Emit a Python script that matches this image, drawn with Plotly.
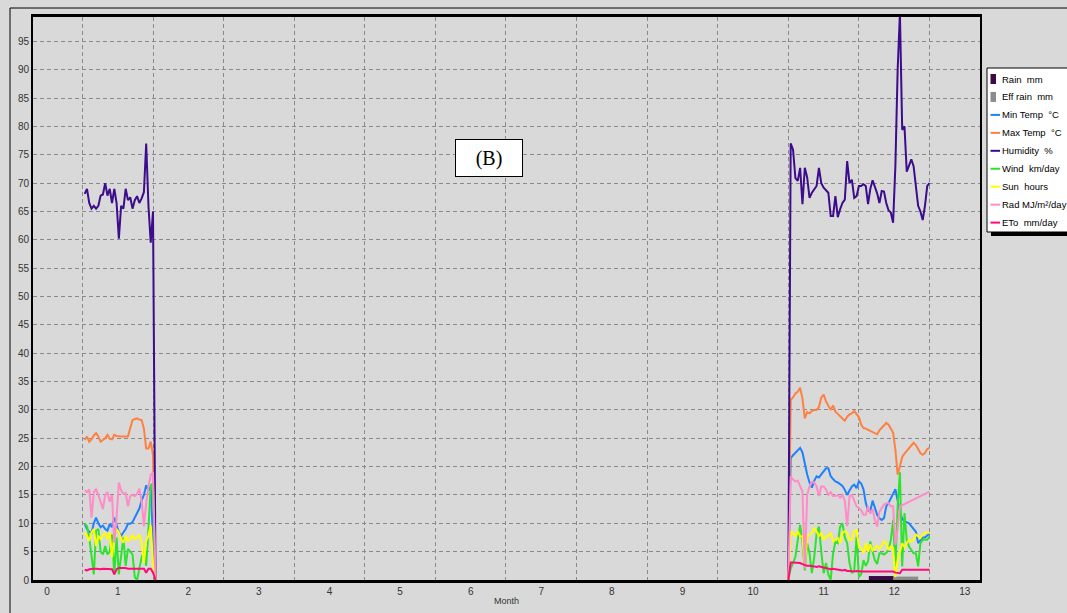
import plotly.graph_objects as go

# ---------------- data ----------------
month_ticks = list(range(0, 14))

# January daily values (31 days)
jan_min = [9.9, 9.0, 8.5, 8.3, 10.0, 11.0, 10.0, 9.3, 9.6, 9.0, 8.7, 9.9, 9.3, 11.0, 9.7, 8.4,
           7.8, 8.4, 9.0, 9.9, 9.9, 10.2, 11.0, 11.7, 12.6, 14.0, 15.0, 16.7, 15.8, 16.5, 7.0]
jan_max = [24.7, 25.3, 24.4, 24.8, 25.5, 25.9, 25.3, 24.4, 24.7, 25.0, 25.6, 24.9, 24.8, 25.6, 25.4, 25.3,
           25.3, 25.3, 25.3, 25.3, 26.8, 28.2, 28.4, 28.5, 28.3, 28.2, 26.7, 23.2, 23.2, 24.4, 22.0]
jan_hum = [68.1, 69.0, 66.5, 65.5, 66.0, 65.5, 66.0, 67.8, 68.0, 70.0, 67.8, 69.0, 66.5, 69.0, 66.5, 60.2,
           66.0, 65.5, 69.0, 67.0, 67.5, 65.5, 67.0, 67.7, 66.5, 67.3, 68.4, 77.0, 66.0, 59.5, 65.0]
jan_wind = [10.0, 9.5, 7.5, 4.5, 1.0, 8.7, 9.0, 5.0, 4.5, 6.0, 4.5, 5.0, 8.0, 1.0, 7.5, 1.0,
            4.5, 7.5, 2.5, 5.5, 5.0, 4.5, 0.5, 0.0, 2.0, 4.0, 5.0, 2.5, 9.0, 16.7, 17.0]
jan_sun = [8.4, 7.8, 6.9, 8.4, 9.0, 6.0, 7.8, 7.2, 7.8, 8.4, 7.2, 8.4, 4.0, 7.8, 9.0, 8.4,
           7.2, 6.6, 7.8, 6.9, 7.2, 8.0, 7.2, 7.5, 8.0, 6.6, 3.0, 6.9, 7.8, 9.6, 3.0]
jan_rad = [15.8, 15.5, 16.0, 11.0, 15.5, 16.0, 15.0, 13.5, 12.5, 15.0, 15.5, 13.8, 15.0, 6.6, 11.0, 17.2,
           15.8, 15.2, 15.3, 13.0, 14.8, 15.0, 14.8, 15.2, 16.1, 14.0, 9.5, 13.5, 16.5, 18.5, 19.0]
jan_eto = [1.8, 1.7, 1.9, 2.0, 2.0, 2.0, 1.9, 1.9, 2.0, 2.0, 2.0, 2.0, 1.9, 1.0, 1.9, 2.1,
           2.1, 2.2, 2.1, 2.0, 2.0, 2.0, 2.0, 2.0, 2.1, 2.0, 2.0, 1.3, 2.0, 2.0, 1.3]

# November daily values (30 days)
nov_min = [21.5, 22.0, 22.5, 23.0, 23.3, 22.5, 20.2, 18.6, 17.2, 16.3, 17.5, 18.3, 18.1, 18.6, 19.2,
           19.7, 19.7, 18.3, 17.8, 17.4, 17.2, 16.9, 16.6, 15.9, 15.0, 15.8, 16.5, 16.8, 16.2, 17.4]
nov_max = [31.8, 32.2, 32.9, 33.2, 33.9, 32.0, 28.5, 29.6, 29.4, 29.8, 30.0, 30.0, 30.5, 32.2, 32.7,
           31.5, 30.6, 30.0, 30.8, 29.7, 29.3, 28.8, 28.5, 28.1, 28.8, 29.2, 29.4, 29.8, 29.3, 28.7]
nov_hum = [77.0, 75.9, 70.9, 70.4, 72.7, 66.3, 72.7, 71.0, 67.4, 68.3, 69.0, 69.5, 72.7, 70.0, 69.2,
           68.8, 68.3, 64.2, 64.2, 67.7, 64.0, 65.4, 66.5, 67.1, 73.9, 70.0, 70.6, 67.4, 67.7, 69.5]
nov_wind = [2.0, 3.0, 4.1, 7.0, 9.7, 6.5, 1.7, 6.5, 4.7, 1.2, 4.0, 8.2, 9.4, 5.0, 1.2,
            3.0, 1.0, 0.0, 4.7, 6.7, 6.5, 9.4, 10.0, 7.5, 6.5, 3.0, 1.2, 1.7, 7.6, 0.5]
nov_sun = [8.6, 8.3, 7.7, 8.6, 7.7, 7.7, 2.4, 7.7, 8.0, 8.3, 9.1, 8.6, 7.7, 8.3, 7.1,
           7.7, 7.7, 8.3, 6.8, 7.1, 7.4, 6.5, 8.3, 8.6, 8.3, 7.1, 7.1, 8.6, 8.8, 5.9]
nov_rad = [18.3, 17.7, 17.4, 17.5, 16.5, 15.6, 2.0, 15.0, 16.5, 17.3, 17.2, 16.5, 14.8, 16.5, 16.5,
           16.0, 15.0, 15.5, 14.8, 14.8, 15.0, 14.5, 15.0, 14.0, 9.5, 14.8, 15.0, 13.8, 13.0, 12.7]
nov_eto = [3.1, 3.1, 3.1, 3.0, 3.0, 2.8, 2.6, 2.5, 2.5, 2.5, 2.4, 2.3, 2.4, 2.3, 2.2,
           2.0, 2.0, 1.9, 2.0, 1.9, 1.8, 1.7, 1.7, 1.8, 1.6, 1.6, 1.5, 1.5, 1.6, 1.5]

# December daily values (31 days)
dec_min = [17.0, 16.0, 13.6, 12.2, 12.2, 14.0, 12.7, 11.5, 10.9, 10.6, 10.9, 13.0, 13.6, 14.4, 15.0, 16.0,
           14.0, 12.0, 10.8, 10.3, 10.2, 10.0, 9.5, 9.0, 8.5, 6.5, 7.0, 7.5, 7.5, 7.8, 8.2]
dec_max = [27.4, 26.8, 26.7, 26.5, 26.3, 26.0, 25.8, 25.7, 26.4, 26.8, 27.3, 27.7, 27.4, 26.8, 26.0, 23.0,
           18.6, 20.0, 21.7, 22.3, 22.8, 23.3, 23.7, 24.2, 23.8, 23.2, 22.4, 22.1, 22.4, 23.1, 23.3]
dec_hum = [69.5, 69.8, 69.5, 66.3, 69.0, 70.5, 69.5, 68.2, 66.5, 68.6, 68.5, 66.5, 65.2, 64.8, 63.0, 73.0,
           90.0, 100.0, 79.4, 80.0, 72.0, 73.0, 74.2, 73.0, 69.0, 66.0, 65.0, 63.5, 66.0, 69.5, 70.0]
dec_wind = [1.0, 3.5, 2.5, 3.3, 6.8, 5.0, 3.5, 2.8, 4.7, 4.7, 4.5, 4.8, 5.3, 7.0, 10.6, 2.0,
            13.0, 19.0, 2.4, 11.8, 7.1, 5.9, 5.3, 4.7, 4.7, 2.4, 6.5, 7.1, 7.1, 7.1, 7.7]
dec_sun = [5.5, 4.8, 6.5, 5.0, 6.3, 5.2, 5.7, 6.0, 5.5, 6.0, 6.8, 6.5, 5.3, 5.9, 5.6, 0.5,
           3.5, 5.0, 6.5, 5.8, 6.5, 7.1, 6.8, 7.1, 8.0, 7.7, 7.4, 8.0, 8.3, 8.4, 8.3]
dec_rad = [12.3, 11.5, 11.5, 13.0, 11.7, 12.5, 10.6, 9.4, 12.0, 12.7, 13.3, 13.5, 13.6, 13.0, 13.0, 6.2,
           9.0, 13.0, 13.2, 13.3, 13.6, 13.8, 14.0, 14.2, 14.4, 14.6, 14.8, 15.0, 15.2, 15.4, 15.6]
dec_eto = [1.5, 1.5, 1.5, 1.6, 1.6, 1.6, 1.6, 1.6, 1.6, 1.6, 1.6, 1.6, 1.6, 1.5, 1.5, 1.3,
           1.2, 1.2, 1.8, 1.8, 1.8, 1.8, 1.8, 1.8, 1.8, 1.8, 1.8, 1.8, 1.8, 1.8, 1.8]

# Monthly rain (December only has rain)
rain_month = [12]
rain_mm = [0.7]
eff_rain_mm = [0.6]

series_names = ["Min Temp  \u00b0C", "Max Temp  \u00b0C", "Humidity  %", "Wind  km/day",
                "Sun  hours", "Rad MJ/m\u00b2/day", "ETo  mm/day"]
series_colors = ["#1E82FF", "#FF8040", "#3C0C8C", "#2CE42C", "#FFFF00", "#FF8CC6", "#FF0A78"]
bar_names = ["Rain  mm", "Eff rain  mm"]
bar_colors = ["#3C0A46", "#8C8C8C"]

# ---------------- helpers ----------------
def day_positions(month, ndays):
    return [month - 0.5 + d / ndays for d in range(1, ndays + 1)]

x_jan = day_positions(1, 31)
x_nov = day_positions(11, 30)
x_dec = day_positions(12, 31)
# zero readings for the months without data (Feb 1 and Oct 31)
x_gap = [1.5 + 1 / 28, None, 10.5]

def build(jan, nov, dec):
    return jan + [0, None, 0] + nov + dec

x_all = x_jan + x_gap + x_nov + x_dec
series = [
    build(jan_min, nov_min, dec_min),
    build(jan_max, nov_max, dec_max),
    build(jan_hum, nov_hum, dec_hum),
    build(jan_wind, nov_wind, dec_wind),
    build(jan_sun, nov_sun, dec_sun),
    build(jan_rad, nov_rad, dec_rad),
    build(jan_eto, nov_eto, dec_eto),
]

fig = go.Figure()

fig.add_trace(go.Bar(x=rain_month, y=rain_mm, name=bar_names[0], marker_color=bar_colors[0],
                     marker_line_width=0, width=[0.35], offset=[-0.36], showlegend=False))
fig.add_trace(go.Bar(x=rain_month, y=eff_rain_mm, name=bar_names[1], marker_color=bar_colors[1],
                     marker_line_width=0, width=[0.35], offset=[-0.01], showlegend=False))

for name, col, ys in zip(series_names, series_colors, series):
    fig.add_trace(go.Scatter(x=x_all, y=ys, mode="lines", name=name,
                             line=dict(color=col, width=2), connectgaps=False, showlegend=False))

# ---------------- layout ----------------
W, H = 1067, 613
ML, MR, MT, MB = 33, 87, 17, 33
PW, PH = W - ML - MR, H - MT - MB

def px(x):
    return (x - ML) / PW

def py(y):
    return (H - MB - y) / PH

BG = "#D9D9D9"
GRID = "#8A8A8A"
FONT = "Liberation Sans, Arial, sans-serif"
TICKFONT = dict(family=FONT, size=10, color="#333333")

fig.update_layout(
    width=W, height=H,
    margin=dict(l=ML, r=MR, t=MT, b=MB, autoexpand=False),
    paper_bgcolor=BG, plot_bgcolor=BG,
    barmode="overlay",
    showlegend=False,
    xaxis=dict(
        range=[-0.2, 13.215], tickvals=month_ticks, ticktext=[str(m) for m in month_ticks],
        showgrid=False, zeroline=False, showline=True, linecolor="black", linewidth=3,
        mirror=True, ticks="", tickfont=TICKFONT, layer="above traces",
        minor=dict(tick0=0.5, dtick=1, showgrid=True, gridcolor=GRID, griddash="4px,3px", gridwidth=1),
        title=dict(text="Month", font=dict(family=FONT, size=9, color="#333333"), standoff=2),
        automargin=False,
    ),
    yaxis=dict(
        range=[0, 99.3], tickvals=list(range(0, 100, 5)), showgrid=True, gridcolor=GRID,
        griddash="4px,3px", gridwidth=1, zeroline=False, showline=True, linecolor="black",
        linewidth=2, mirror=True, ticks="", tickfont=TICKFONT, layer="above traces",
        automargin=False,
    ),
)

shapes = []
annotations = []

# outer frame (left and top edges)
shapes.append(dict(type="line", xref="paper", yref="paper", x0=px(10), x1=px(1070), y0=py(8), y1=py(8),
                   line=dict(color="black", width=1)))
shapes.append(dict(type="line", xref="paper", yref="paper", x0=px(10), x1=px(10), y0=py(8), y1=py(616),
                   line=dict(color="black", width=1)))

# legend box with shadow
shapes.append(dict(type="rect", xref="paper", yref="paper", x0=px(991), x1=px(1075), y0=py(236), y1=py(72),
                   fillcolor="black", line=dict(width=0), layer="above"))
shapes.append(dict(type="rect", xref="paper", yref="paper", x0=px(987), x1=px(1072), y0=py(232), y1=py(68),
                   fillcolor="white", line=dict(color="black", width=1), layer="above"))

legend_names = bar_names + series_names
legend_colors = bar_colors + series_colors
LEG_Y0, LEG_DY = 79, 17.95
for i, (nm, col) in enumerate(zip(legend_names, legend_colors)):
    yc = LEG_Y0 + i * LEG_DY
    if i < 2:
        shapes.append(dict(type="rect", xref="paper", yref="paper", x0=px(990.5), x1=px(996), y0=py(yc + 5),
                           y1=py(yc - 5), fillcolor=col, line=dict(width=0), layer="above"))
    else:
        shapes.append(dict(type="line", xref="paper", yref="paper", x0=px(990.5), x1=px(1000), y0=py(yc),
                           y1=py(yc), line=dict(color=col, width=2), layer="above"))
    annotations.append(dict(xref="paper", yref="paper", x=px(1000.5), y=py(yc), text=nm, showarrow=False,
                            xanchor="left", yanchor="middle", borderpad=0,
                            font=dict(family=FONT, size=9.5, color="black")))

# panel label
annotations.append(dict(xref="paper", yref="paper", x=px(489), y=py(139), text="(B)", showarrow=False,
                        font=dict(family="Liberation Serif, Times New Roman, serif", size=20, color="black"),
                        bgcolor="white", bordercolor="black", borderwidth=1, borderpad=2, width=62, height=32))

fig.update_layout(shapes=shapes, annotations=annotations)

fig.write_html("out.html", config={"displayModeBar": False},
               post_script="document.body.style.margin='0px';document.body.style.overflow='hidden';")
